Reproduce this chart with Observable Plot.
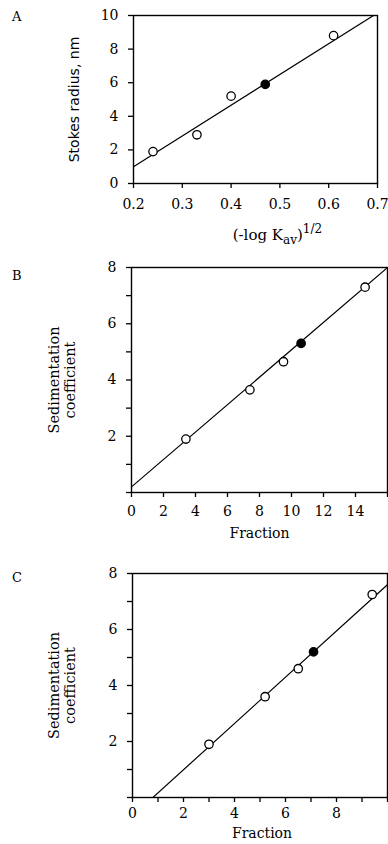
<!DOCTYPE html>
<html>
<head>
<meta charset="utf-8">
<script src="https://cdn.jsdelivr.net/npm/d3@7"></script>
<script src="https://cdn.jsdelivr.net/npm/@observablehq/plot@0.6"></script>
<style>
  html, body { margin: 0; padding: 0; background: #fff; }
  #wrap { position: relative; width: 388px; height: 844px; overflow: hidden; background: #fff; }
  .panel { position: absolute; left: 0; }
  .letter { position: absolute; left: 12px; font-family: "DejaVu Serif", serif; font-size: 13px; color: #000; }
</style>
</head>
<body>
<div id="wrap"></div>
<script>
// ---------- Panel A data ----------
const aLogKav = [0.24, 0.33, 0.40, 0.47, 0.61];
const aStokes = [1.9, 2.9, 5.2, 5.9, 8.8];
const aFilled = [false, false, false, true, false];
const aFitX = [0.2, 0.7];
const aFitY = [1.0, 10.15];
const aXTicks = [0.2, 0.3, 0.4, 0.5, 0.6, 0.7];
const aYTicks = [0, 2, 4, 6, 8, 10];

// ---------- Panel B data ----------
const bFraction = [3.4, 7.4, 9.5, 10.6, 14.6];
const bSed = [1.9, 3.65, 4.65, 5.3, 7.3];
const bFilled = [false, false, false, true, false];
const bFitX = [0, 16];
const bFitY = [0.2, 8.0];
const bXTicks = [0, 2, 4, 6, 8, 10, 12, 14, 16];
const bXLabels = ["0", "2", "4", "6", "8", "10", "12", "14", ""];
const bYTicks = [0, 1, 2, 3, 4, 5, 6, 7, 8];
const bYLabels = ["", "", "2", "", "4", "", "6", "", "8"];

// ---------- Panel C data ----------
const cFraction = [3.0, 5.2, 6.5, 7.1, 9.4];
const cSed = [1.9, 3.6, 4.6, 5.2, 7.25];
const cFilled = [false, false, false, true, false];
const cFitX = [0.8, 10];
const cFitY = [0, 7.6];
const cXTicks = [0, 1, 2, 3, 4, 5, 6, 7, 8, 9, 10];
const cXLabels = ["0", "", "2", "", "4", "", "6", "", "8", "", ""];
const cYTicks = [0, 1, 2, 3, 4, 5, 6, 7, 8];
const cYLabels = ["", "", "2", "", "4", "", "6", "", "8"];

const FONT = '"DejaVu Serif", serif';
const SANS = '"DejaVu Sans", sans-serif';

function makePanel(o) {
  const pts = o.xs.map((x, i) => ({x, y: o.ys[i], f: o.filled[i]}));
  const fit = o.fitX.map((x, i) => ({x, y: o.fitY[i]}));
  const fmt = (ticks, labels) => labels ? (d => labels[ticks.indexOf(d)] ?? "") : (d => String(d));
  const marks = [
    Plot.line(fit, {x: "x", y: "y", stroke: "black", strokeWidth: 1.2, clip: true}),
    Plot.frame({stroke: "black", strokeWidth: 1.4}),
    Plot.axisX({ticks: o.xTicks, tickFormat: fmt(o.xTicks, o.xLabels), tickSize: 5, tickPadding: o.xPad, label: null, fontSize: 14, strokeWidth: 1.3}),
    Plot.axisY({ticks: o.yTicks, tickFormat: fmt(o.yTicks, o.yLabels), tickSize: 5, tickPadding: 10, label: null, fontSize: 14, strokeWidth: 1.3}),
    Plot.dot(pts.filter(d => !d.f), {x: "x", y: "y", r: 4.2, fill: "white", stroke: "black", strokeWidth: 1.3}),
    Plot.dot(pts.filter(d => d.f), {x: "x", y: "y", r: 4.2, fill: "black", stroke: "black", strokeWidth: 1.3}),
    Plot.text([o.yLabel], {text: d => d, frameAnchor: "left", rotate: -90, dx: o.yLabelDx, fontSize: o.yLabelSize, fontFamily: o.yLabelFont || FONT, lineHeight: 1.1, textAnchor: "middle", fill: "black"})
  ];
  if (o.xLabel) {
    marks.push(Plot.text([o.xLabel], {text: d => d, frameAnchor: "bottom", dx: o.xLabelDx || 0, dy: o.xLabelDy, fontSize: 14, fill: "black"}));
  }
  return Plot.plot({
    width: 388,
    height: o.height,
    marginLeft: o.ml, marginRight: o.mr, marginTop: o.mt, marginBottom: o.mb,
    style: {fontFamily: FONT, fontSize: "14px", color: "black", background: "white", overflow: "visible"},
    x: {domain: o.xDomain},
    y: {domain: o.yDomain},
    marks
  });
}

const wrap = document.getElementById("wrap");

function place(chart, top, letter, letterTop) {
  const div = document.createElement("div");
  div.className = "panel";
  div.style.top = top + "px";
  div.appendChild(chart);
  wrap.appendChild(div);
  const l = document.createElement("div");
  l.className = "letter";
  l.style.top = letterTop + "px";
  l.textContent = letter;
  wrap.appendChild(l);
}

// Panel A
const chartA = makePanel({
  xs: aLogKav, ys: aStokes, filled: aFilled, fitX: aFitX, fitY: aFitY,
  xDomain: [0.2, 0.7], yDomain: [0, 10],
  xTicks: aXTicks, yTicks: aYTicks, xPad: 11,
  height: 250, ml: 133, mr: 11, mt: 15, mb: 67,
  yLabel: "Stokes radius, nm", yLabelDx: -59, yLabelSize: 14, yLabelFont: SANS
});
// x label with subscript and superscript
{
  const svg = d3.select(chartA);
  const xs = chartA.scale("x");
  const t = svg.append("text")
    .attr("x", xs.apply(0.5) - 2)
    .attr("y", 240)
    .attr("text-anchor", "middle")
    .attr("font-family", FONT)
    .attr("font-size", 15)
    .attr("fill", "black");
  t.append("tspan").text("(-log K");
  t.append("tspan").attr("font-size", 12).attr("dy", 4).text("av");
  t.append("tspan").attr("dy", -4).text(")");
  t.append("tspan").attr("font-size", 12).attr("dy", -7).text("1/2");
}
place(chartA, 0, "A", 9);

// Panel B
const chartB = makePanel({
  xs: bFraction, ys: bSed, filled: bFilled, fitX: bFitX, fitY: bFitY,
  xDomain: [0, 16], yDomain: [0, 8],
  xTicks: bXTicks, xLabels: bXLabels, yTicks: bYTicks, yLabels: bYLabels, xPad: 9,
  height: 310, ml: 131, mr: 1, mt: 17, mb: 68,
  yLabel: "Sedimentation\ncoefficient", yLabelDx: -70, yLabelSize: 14.5,
  xLabel: "Fraction", xLabelDy: 45, xLabelDx: 0
});
place(chartB, 250, "B", 268);

// Panel C
const chartC = makePanel({
  xs: cFraction, ys: cSed, filled: cFilled, fitX: cFitX, fitY: cFitY,
  xDomain: [0, 10], yDomain: [0, 8],
  xTicks: cXTicks, xLabels: cXLabels, yTicks: cYTicks, yLabels: cYLabels, xPad: 6,
  height: 284, ml: 132, mr: 1, mt: 13, mb: 47,
  yLabel: "Sedimentation\ncoefficient", yLabelDx: -71, yLabelSize: 14.5,
  xLabel: "Fraction", xLabelDy: 40, xLabelDx: 2
});
place(chartC, 560, "C", 570);
</script>
</body>
</html>
